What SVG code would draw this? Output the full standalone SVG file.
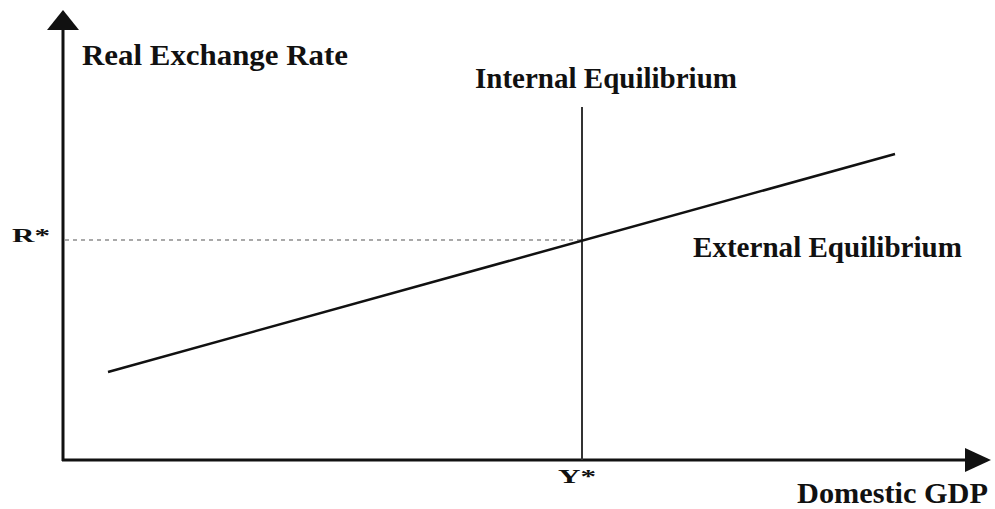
<svg xmlns="http://www.w3.org/2000/svg" width="995" height="509" viewBox="0 0 995 509">
<style>
.lbl{font-family:"Liberation Serif","Times New Roman",serif;font-weight:bold;fill:#111;}
.big{font-size:30px;}
.small{font-size:19px;}
.axis{stroke:#111;stroke-width:3;fill:none;}
</style>
<rect width="995" height="509" fill="#fff"/>
<g id="axes">
<line class="axis" x1="63" y1="461" x2="63" y2="26"/>
<polygon points="63,10 47,30 79,30" fill="#111"/>
<line class="axis" x1="62" y1="460" x2="970" y2="460"/>
<polygon points="991,460 965,448 965,472" fill="#111"/>
</g>
<g id="connectors">
<line x1="582" y1="107" x2="582" y2="460" stroke="#333" stroke-width="2"/>
<line x1="65" y1="240" x2="582" y2="240" stroke="#555" stroke-width="1.2" stroke-dasharray="4,4"/>
<line x1="108" y1="372" x2="895" y2="154" stroke="#111" stroke-width="2.5"/>
</g>
<g id="labels">
<text class="lbl big" x="82" y="65" textLength="266" lengthAdjust="spacingAndGlyphs">Real Exchange Rate</text>
<text class="lbl big" x="475" y="88" textLength="262" lengthAdjust="spacingAndGlyphs">Internal Equilibrium</text>
<text class="lbl big" x="693" y="257" textLength="269" lengthAdjust="spacingAndGlyphs">External Equilibrium</text>
<text class="lbl big" x="797" y="503" textLength="191" lengthAdjust="spacingAndGlyphs">Domestic GDP</text>
<text class="lbl small" x="12" y="242" textLength="38" lengthAdjust="spacingAndGlyphs">R*</text>
<text class="lbl small" x="558" y="483" textLength="38" lengthAdjust="spacingAndGlyphs">Y*</text>
</g>
</svg>
